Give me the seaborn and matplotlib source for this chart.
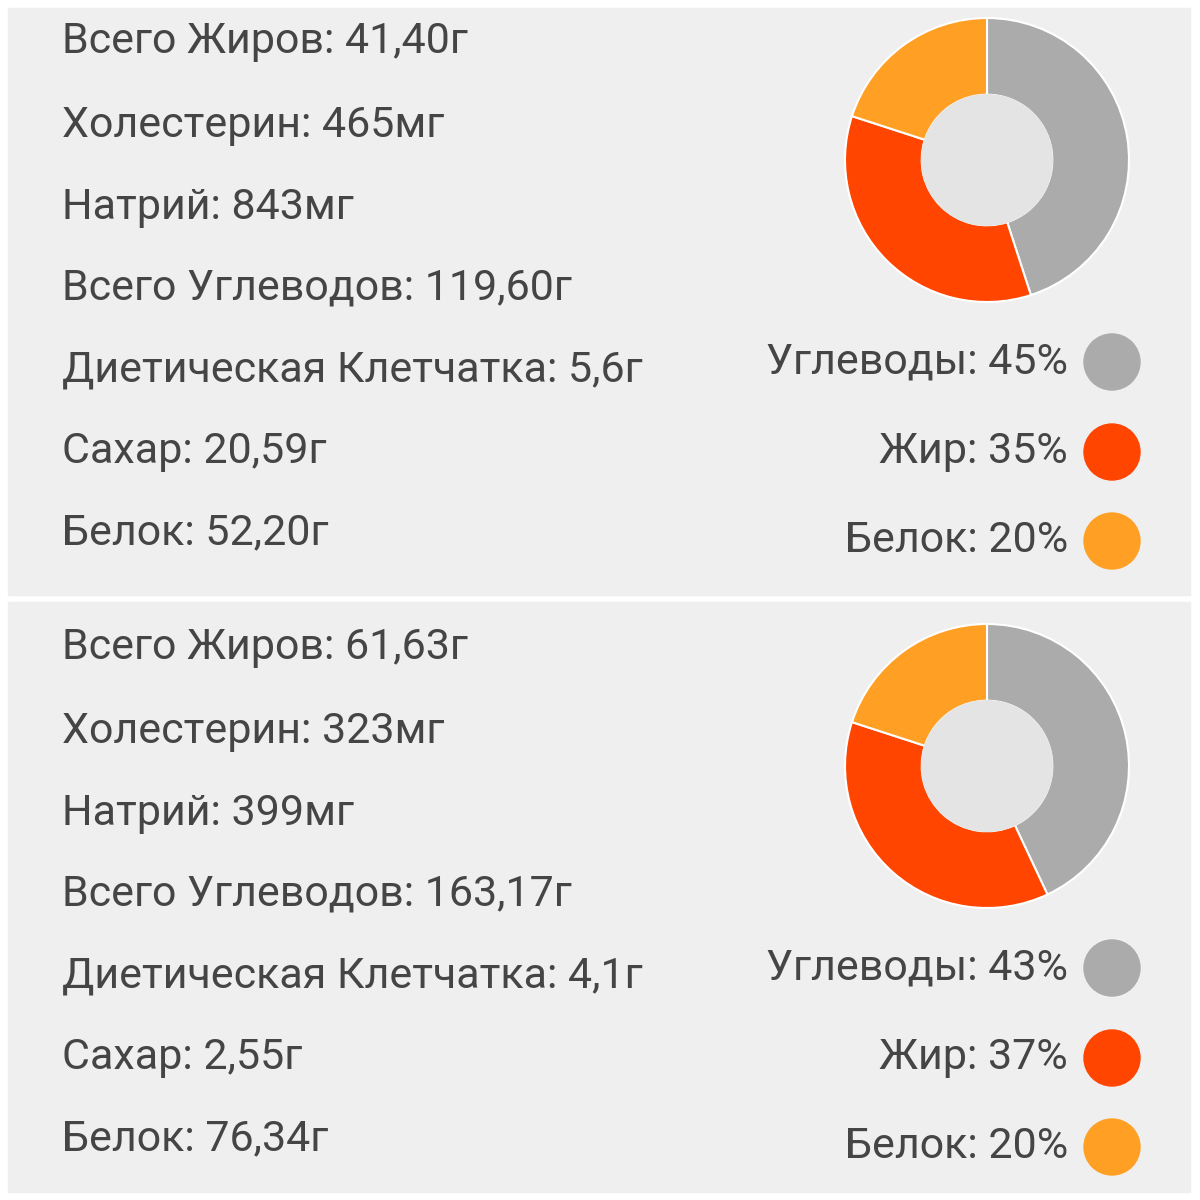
import matplotlib
matplotlib.use("Agg")
import matplotlib.pyplot as plt
import seaborn as sns
from matplotlib.patches import Rectangle, Circle

sns.set_theme(style="white", font="Roboto")

nutrients_1 = ["Всего Жиров: 41,40г", "Холестерин: 465мг", "Натрий: 843мг",
               "Всего Углеводов: 119,60г", "Диетическая Клетчатка: 5,6г",
               "Сахар: 20,59г", "Белок: 52,20г"]
nutrients_2 = ["Всего Жиров: 61,63г", "Холестерин: 323мг", "Натрий: 399мг",
               "Всего Углеводов: 163,17г", "Диетическая Клетчатка: 4,1г",
               "Сахар: 2,55г", "Белок: 76,34г"]
macro_names = ["Углеводы", "Жир", "Белок"]
shares_1 = [45, 35, 20]
shares_2 = [43, 37, 20]
colors = ["#ababab", "#ff4500", "#ffa025"]

W = H = 1200
fig = plt.figure(figsize=(12, 12), dpi=100)
fig.patch.set_facecolor("white")
ax = fig.add_axes([0, 0, 1, 1])
ax.set_xlim(0, W)
ax.set_ylim(H, 0)
ax.axis("off")

panels = [(8, 595, 0, nutrients_1, shares_1), (602, 1192, 606, nutrients_2, shares_2)]
text_dy = [42, 125, 207, 288, 370, 452, 533]
leg_dy = [362, 452, 541]

for top, bottom, off, nutr, shares in panels:
    ax.add_patch(Rectangle((8, top), 1182, bottom - top, color="#efefef", zorder=0))
    for lbl, dy in zip(nutr, text_dy):
        ax.text(62, off + dy, lbl, fontsize=31, color="#454545", va="center", ha="left")
    for name, s, c, dy in zip(macro_names, shares, colors, leg_dy):
        ax.text(1068, off + dy, f"{name}: {s}%", fontsize=31, color="#454545",
                va="center", ha="right")
        ax.add_patch(Circle((1112, off + dy), 28, color=c))
    # donut
    cx, cy, r = 987, off + 160, 142
    pax = fig.add_axes([(cx - r) / W, 1 - (cy + r) / H, 2 * r / W, 2 * r / H])
    pax.pie(shares, colors=colors, startangle=90, counterclock=False,
            wedgeprops=dict(width=0.54, edgecolor="white", linewidth=1.5))
    pax.add_patch(Circle((0, 0), 0.46, color="#e4e4e4", zorder=5))
    pax.set_xlim(-1, 1)
    pax.set_ylim(-1, 1)
    pax.set_aspect("equal")
    pax.axis("off")

fig.savefig("out.png", dpi=100, facecolor="white")
